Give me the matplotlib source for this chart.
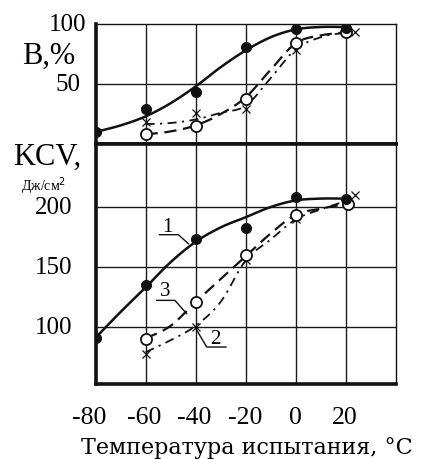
import numpy as np
import matplotlib
matplotlib.use("Agg")
import matplotlib.pyplot as plt

plt.rcParams['font.family'] = ['Liberation Serif', 'DejaVu Serif']

# ---------------- data ----------------
x_ticks = [-80, -60, -40, -20, 0, 20]
x_tick_labels = ["-80", "-60", "-40", "-20", "0", "20"]

# Upper panel: B, %
top_pts1_x = [-80, -60, -40, -20, 0, 20]
top_pts1_y = [10, 29, 43, 80.5, 96, 96.7]
top_pts3_x = [-60, -40, -20, 0, 20]
top_pts3_y = [8.3, 15.3, 37.5, 84, 93]
top_pts2_x = [-60, -40, -20, 0, 23.5]
top_pts2_y = [18, 26, 29.5, 78, 93]

top_curve1_x = [-80, -70, -60, -50, -40, -30, -20, -10, 0, 10, 20]
top_curve1_y = [10, 15.5, 23, 34, 48, 64, 78, 89, 95.5, 97.5, 97.5]
top_curve3_x = [-60, -50, -40, -30, -20, -10, 0, 10, 20]
top_curve3_y = [8, 10.5, 15.5, 25, 39, 62, 84, 90.5, 93]
top_curve2_x = [-60, -50, -40, -30, -20, -10, 0, 10, 20]
top_curve2_y = [16.5, 17.5, 20.5, 26, 32, 55, 79, 89, 93]

top_yticks = [100, 50]
top_ytick_labels = ["100", "50"]

# Lower panel: KCV, J/cm2
bot_pts1_x = [-80, -60, -40, -20, 0, 20]
bot_pts1_y = [91, 134.7, 173, 182.5, 208.3, 206.4]
bot_pts3_x = [-60, -40, -20, 0, 21]
bot_pts3_y = [90.3, 120.8, 160.3, 193.6, 202.7]
bot_pts2_x = [-60, -40, -20, 0, 23.5]
bot_pts2_y = [77.7, 100, 155.5, 189.7, 209.7]

bot_curve1_x = [-80, -70, -60, -50, -40, -30, -20, -10, 0, 10, 20]
bot_curve1_y = [91, 112.5, 133, 154, 171, 183, 191.5, 200, 205.5, 207, 207]
bot_curve3_x = [-60, -50, -40, -30, -20, -10, 0, 10, 20]
bot_curve3_y = [90.3, 101, 120.8, 140, 159, 178, 193.6, 198.6, 202.7]
bot_curve2_x = [-60, -50, -40, -30, -20, -10, 0, 10, 20]
bot_curve2_y = [79, 89, 101, 121, 155.5, 173, 189.7, 198, 205]

bot_yticks = [200, 150, 100]
bot_ytick_labels = ["200", "150", "100"]

curve_labels = ["1", "3", "2"]
label_text_xy = [(-51.3, 183.4), (-52.3, 130.5), (-32.3, 90.3)]
label_leader = [
    [(-54.5, 176.9), (-46.9, 176.9), (-42.9, 169.4)],
    [(-55.6, 122.2), (-48.3, 122.2), (-43.6, 111.1)],
    [(-40.3, 100.0), (-35.6, 83.3), (-27.9, 83.3)],
]

x_title = "Температура испытания, °С"


# ---------------- helpers ----------------
def smooth(xs, ys, n=12):
    """Catmull-Rom rendering of a curve through the read points."""
    p = np.column_stack([xs, ys]).astype(float)
    p = np.vstack([2 * p[0] - p[1], p, 2 * p[-1] - p[-2]])
    out = []
    t = np.linspace(0, 1, n, endpoint=False)[:, None]
    for i in range(1, len(p) - 2):
        p0, p1, p2, p3 = p[i - 1], p[i], p[i + 1], p[i + 2]
        seg = 0.5 * ((2 * p1) + (-p0 + p2) * t + (2 * p0 - 5 * p1 + 4 * p2 - p3) * t ** 2
                     + (-p0 + 3 * p1 - 3 * p2 + p3) * t ** 3)
        out.append(seg)
    out.append(p[-2][None, :])
    out = np.vstack(out)
    return out[:, 0], out[:, 1]


# ---------------- figure ----------------
W, H = 423, 460
fig = plt.figure(figsize=(W / 100, H / 100), dpi=100)

L = 95.5 / W
Wd = 300.5 / W
ax_top = fig.add_axes([L, (H - 145) / H, Wd, 120 / H])
ax_bot = fig.add_axes([L, (H - 385) / H, Wd, 240 / H])

XLIM = (-80, 40)
ax_top.set_xlim(*XLIM)
ax_top.set_ylim(0, 100)
ax_bot.set_xlim(*XLIM)
ax_bot.set_ylim(52.5, 252.5)

grid_kw = dict(color='#1a1a1a', lw=1.0, zorder=1)
for ax in (ax_top, ax_bot):
    for xv in x_ticks[1:]:
        ax.axvline(xv, **grid_kw)
    ax.set_xticks([])
    ax.set_yticks([])
    for side in ('top', 'right'):
        ax.spines[side].set_linewidth(1.0)
    ax.spines['left'].set_linewidth(2.6)
    ax.spines['bottom'].set_linewidth(2.6)
    for s in ax.spines.values():
        s.set_color('#111111')
        s.set_zorder(6)
ax_bot.spines['top'].set_linewidth(2.6)

for yv in top_yticks[1:]:
    ax_top.axhline(yv, **grid_kw)
for yv in bot_yticks:
    ax_bot.axhline(yv, **grid_kw)

solid_kw = dict(color='#111111', lw=1.8, ls='-', zorder=3, solid_capstyle='round')
dash_kw = dict(color='#111111', lw=1.6, ls=(0, (5.5, 3.0)), zorder=3)
dashdot_kw = dict(color='#111111', lw=1.3, ls=(0, (5.0, 3.0, 1.2, 3.0)), zorder=3)

filled_kw = dict(marker='o', ms=7, mfc='#111111', mec='#111111', ls='none', zorder=5)
open_kw = dict(marker='o', ms=8, mfc='white', mec='#111111', mew=1.3, ls='none', zorder=5)
cross_kw = dict(marker='x', ms=5.5, mec='#111111', mew=0.9, ls='none', zorder=5)

for ax, c1, c3, c2, p1, p3, p2 in [
    (ax_top, (top_curve1_x, top_curve1_y), (top_curve3_x, top_curve3_y), (top_curve2_x, top_curve2_y),
     (top_pts1_x, top_pts1_y), (top_pts3_x, top_pts3_y), (top_pts2_x, top_pts2_y)),
    (ax_bot, (bot_curve1_x, bot_curve1_y), (bot_curve3_x, bot_curve3_y), (bot_curve2_x, bot_curve2_y),
     (bot_pts1_x, bot_pts1_y), (bot_pts3_x, bot_pts3_y), (bot_pts2_x, bot_pts2_y)),
]:
    ax.plot(*smooth(*c1), **solid_kw)
    ax.plot(*smooth(*c3), **dash_kw)
    ax.plot(*smooth(*c2), **dashdot_kw)
    ax.plot(*p2, **cross_kw)
    ax.plot(*p3, **open_kw)
    ax.plot(*p1, **filled_kw)

# curve labels with leaders
for lab, txy, leader in zip(curve_labels, label_text_xy, label_leader):
    ax_bot.text(txy[0], txy[1], lab, fontsize=15, ha='center', va='center', zorder=7)
    lx = [p[0] for p in leader]
    ly = [p[1] for p in leader]
    ax_bot.plot(lx, ly, color='#111111', lw=1.0, zorder=7)


def fig_text(px, py, s, **kw):
    fig.text(px / W, 1 - py / H, s, **kw)


# y tick labels
top_label_right = [86, 80]
for yv, lab, xr in zip(top_yticks, top_ytick_labels, top_label_right):
    ypx = 145 - yv * 1.2
    fig_text(xr, ypx, lab, fontsize=18, ha='right', va='center')
for yv, lab in zip(bot_yticks, bot_ytick_labels):
    ypx = 385 - (yv - 52.5) * 1.2
    fig_text(72, ypx, lab, fontsize=18, ha='right', va='center')

# x tick labels
x_label_shift = [-6, -1, -1, -1, 0, -1]
for xv, lab, dx in zip(x_ticks, x_tick_labels, x_label_shift):
    xpx = 95.5 + (xv + 80) * 300.5 / 120
    fig_text(xpx + dx, 418, lab, fontsize=18.5, ha='center', va='center')

fig_text(246.5, 448, x_title, fontsize=16, ha='center', va='center', family='DejaVu Serif')

fig_text(49, 56, "B,%", fontsize=22, ha='center', va='center')
fig_text(47, 157, "KCV,", fontsize=22, ha='center', va='center')
fig_text(44, 186, "Дж/см$^{2}$", fontsize=10, ha='center', va='center')

fig.savefig("out.png", dpi=100)
